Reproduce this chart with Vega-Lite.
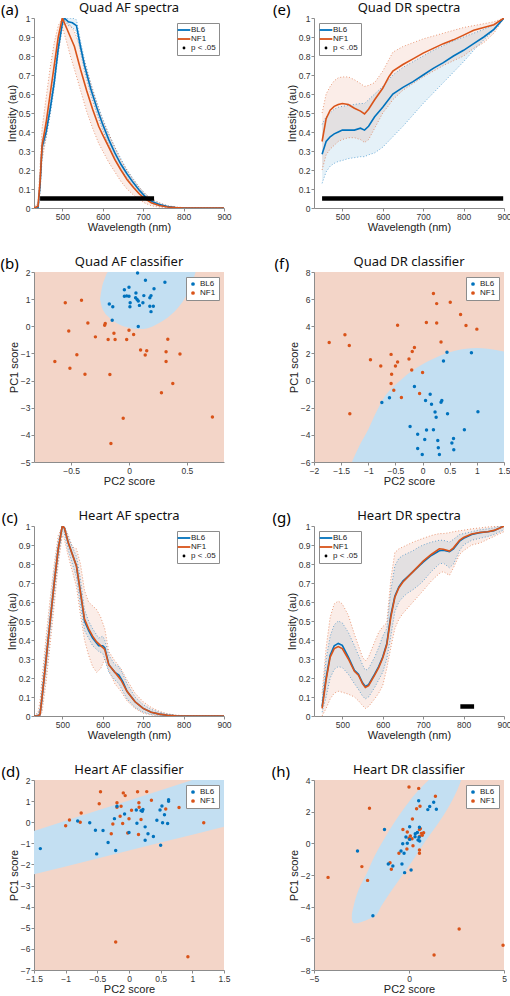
{
"$schema":"https://vega.github.io/schema/vega-lite/v6.json",
"padding":{"left":0,"top":2,"right":0,"bottom":0},
"background":"white",
"columns":2,
"spacing":{"row":64,"column":90},
"bounds":"flush",
"resolve":{"scale":{"color":"independent","fill":"independent","stroke":"independent"},"legend":{"color":"independent"}},
"config":{
 "view":{"stroke":null},
 "font":"Liberation Sans",
 "axis":{"labelFont":"Liberation Sans","labelFontSize":8.5,"labelColor":"#333","titleFont":"Liberation Sans","titleFontSize":11,"titleFontWeight":"normal","titleColor":"#222","domainColor":"#8c8c8c","tickColor":"#8c8c8c","tickSize":3,"grid":false,"labelPadding":1,"titlePadding":1,"labelFlush":false,"labelOverlap":false},
 "title":{"font":"Noto Sans","fontSize":13,"fontWeight":"normal","color":"#111","offset":-12},
 "legend":{"labelFont":"Liberation Sans","labelFontSize":8,"labelColor":"#222","fillColor":"white","strokeColor":"#8c8c8c","padding":3,"rowPadding":1,"offset":5,"symbolStrokeWidth":1.8,"labelOffset":3}
},
"datasets":{
"qaf":[
{"g":"BL6","wl":430,"m":0,"lo":0,"hi":0},{"g":"BL6","wl":440,"m":0,"lo":0,"hi":0.01},{"g":"BL6","wl":445,"m":0.12,"lo":0.1,"hi":0.15},{"g":"BL6","wl":450,"m":0.32,"lo":0.29,"hi":0.35},{"g":"BL6","wl":460,"m":0.4,"lo":0.37,"hi":0.43},{"g":"BL6","wl":470,"m":0.52,"lo":0.49,"hi":0.55},{"g":"BL6","wl":480,"m":0.66,"lo":0.63,"hi":0.69},{"g":"BL6","wl":490,"m":0.84,"lo":0.81,"hi":0.87},{"g":"BL6","wl":500,"m":0.97,"lo":0.95,"hi":0.99},{"g":"BL6","wl":505,"m":1.0,"lo":0.99,"hi":1.0},{"g":"BL6","wl":515,"m":0.98,"lo":0.96,"hi":1.0},{"g":"BL6","wl":525,"m":0.975,"lo":0.95,"hi":1.0},{"g":"BL6","wl":535,"m":0.96,"lo":0.93,"hi":0.99},{"g":"BL6","wl":545,"m":0.85,"lo":0.82,"hi":0.88},{"g":"BL6","wl":555,"m":0.75,"lo":0.72,"hi":0.78},{"g":"BL6","wl":570,"m":0.63,"lo":0.6,"hi":0.66},{"g":"BL6","wl":585,"m":0.53,"lo":0.5,"hi":0.56},{"g":"BL6","wl":600,"m":0.44,"lo":0.41,"hi":0.47},{"g":"BL6","wl":615,"m":0.36,"lo":0.33,"hi":0.39},{"g":"BL6","wl":630,"m":0.29,"lo":0.26,"hi":0.32},{"g":"BL6","wl":645,"m":0.23,"lo":0.2,"hi":0.26},{"g":"BL6","wl":660,"m":0.18,"lo":0.16,"hi":0.2},{"g":"BL6","wl":675,"m":0.135,"lo":0.115,"hi":0.155},{"g":"BL6","wl":690,"m":0.095,"lo":0.08,"hi":0.11},{"g":"BL6","wl":705,"m":0.06,"lo":0.05,"hi":0.075},{"g":"BL6","wl":720,"m":0.035,"lo":0.025,"hi":0.045},{"g":"BL6","wl":740,"m":0.018,"lo":0.01,"hi":0.026},{"g":"BL6","wl":760,"m":0.008,"lo":0.004,"hi":0.012},{"g":"BL6","wl":780,"m":0.003,"lo":0.001,"hi":0.005},{"g":"BL6","wl":800,"m":0,"lo":0,"hi":0.002},{"g":"BL6","wl":850,"m":0,"lo":0,"hi":0},{"g":"BL6","wl":900,"m":0,"lo":0,"hi":0},
{"g":"NF1","wl":430,"m":0,"lo":0,"hi":0},{"g":"NF1","wl":440,"m":0.01,"lo":0,"hi":0.03},{"g":"NF1","wl":445,"m":0.14,"lo":0.08,"hi":0.22},{"g":"NF1","wl":450,"m":0.33,"lo":0.25,"hi":0.42},{"g":"NF1","wl":460,"m":0.45,"lo":0.37,"hi":0.58},{"g":"NF1","wl":470,"m":0.6,"lo":0.51,"hi":0.74},{"g":"NF1","wl":480,"m":0.75,"lo":0.66,"hi":0.87},{"g":"NF1","wl":490,"m":0.9,"lo":0.82,"hi":0.96},{"g":"NF1","wl":500,"m":1.0,"lo":0.95,"hi":1.0},{"g":"NF1","wl":510,"m":0.95,"lo":0.88,"hi":0.99},{"g":"NF1","wl":520,"m":0.9,"lo":0.8,"hi":0.96},{"g":"NF1","wl":530,"m":0.85,"lo":0.73,"hi":0.93},{"g":"NF1","wl":545,"m":0.73,"lo":0.62,"hi":0.84},{"g":"NF1","wl":560,"m":0.62,"lo":0.51,"hi":0.73},{"g":"NF1","wl":575,"m":0.52,"lo":0.42,"hi":0.62},{"g":"NF1","wl":590,"m":0.43,"lo":0.34,"hi":0.52},{"g":"NF1","wl":600,"m":0.385,"lo":0.3,"hi":0.46},{"g":"NF1","wl":615,"m":0.32,"lo":0.24,"hi":0.39},{"g":"NF1","wl":630,"m":0.255,"lo":0.19,"hi":0.32},{"g":"NF1","wl":645,"m":0.2,"lo":0.14,"hi":0.25},{"g":"NF1","wl":660,"m":0.15,"lo":0.1,"hi":0.2},{"g":"NF1","wl":675,"m":0.11,"lo":0.07,"hi":0.15},{"g":"NF1","wl":690,"m":0.075,"lo":0.045,"hi":0.11},{"g":"NF1","wl":705,"m":0.048,"lo":0.025,"hi":0.075},{"g":"NF1","wl":720,"m":0.028,"lo":0.012,"hi":0.05},{"g":"NF1","wl":740,"m":0.013,"lo":0.004,"hi":0.028},{"g":"NF1","wl":760,"m":0.005,"lo":0.001,"hi":0.012},{"g":"NF1","wl":780,"m":0.002,"lo":0,"hi":0.005},{"g":"NF1","wl":800,"m":0,"lo":0,"hi":0.002},{"g":"NF1","wl":850,"m":0,"lo":0,"hi":0},{"g":"NF1","wl":900,"m":0,"lo":0,"hi":0}
],
"qdr":[
{"g":"BL6","wl":450,"m":0.283,"lo":0.13,"hi":0.44},{"g":"BL6","wl":460,"m":0.35,"lo":0.19,"hi":0.48},{"g":"BL6","wl":470,"m":0.375,"lo":0.22,"hi":0.5},{"g":"BL6","wl":480,"m":0.39,"lo":0.235,"hi":0.52},{"g":"BL6","wl":490,"m":0.4,"lo":0.245,"hi":0.53},{"g":"BL6","wl":500,"m":0.41,"lo":0.25,"hi":0.535},{"g":"BL6","wl":515,"m":0.41,"lo":0.26,"hi":0.54},{"g":"BL6","wl":530,"m":0.41,"lo":0.265,"hi":0.545},{"g":"BL6","wl":545,"m":0.42,"lo":0.27,"hi":0.55},{"g":"BL6","wl":555,"m":0.41,"lo":0.27,"hi":0.55},{"g":"BL6","wl":565,"m":0.43,"lo":0.28,"hi":0.57},{"g":"BL6","wl":580,"m":0.48,"lo":0.29,"hi":0.6},{"g":"BL6","wl":600,"m":0.53,"lo":0.32,"hi":0.64},{"g":"BL6","wl":625,"m":0.6,"lo":0.375,"hi":0.7},{"g":"BL6","wl":650,"m":0.635,"lo":0.43,"hi":0.74},{"g":"BL6","wl":675,"m":0.665,"lo":0.49,"hi":0.77},{"g":"BL6","wl":700,"m":0.7,"lo":0.55,"hi":0.8},{"g":"BL6","wl":725,"m":0.735,"lo":0.605,"hi":0.83},{"g":"BL6","wl":750,"m":0.765,"lo":0.66,"hi":0.855},{"g":"BL6","wl":775,"m":0.8,"lo":0.715,"hi":0.88},{"g":"BL6","wl":800,"m":0.83,"lo":0.77,"hi":0.9},{"g":"BL6","wl":825,"m":0.865,"lo":0.83,"hi":0.92},{"g":"BL6","wl":850,"m":0.9,"lo":0.885,"hi":0.94},{"g":"BL6","wl":875,"m":0.94,"lo":0.935,"hi":0.965},{"g":"BL6","wl":900,"m":1.0,"lo":1.0,"hi":1.0},
{"g":"NF1","wl":450,"m":0.35,"lo":0.2,"hi":0.5},{"g":"NF1","wl":460,"m":0.47,"lo":0.28,"hi":0.6},{"g":"NF1","wl":470,"m":0.515,"lo":0.31,"hi":0.64},{"g":"NF1","wl":480,"m":0.535,"lo":0.33,"hi":0.67},{"g":"NF1","wl":490,"m":0.545,"lo":0.35,"hi":0.685},{"g":"NF1","wl":500,"m":0.55,"lo":0.36,"hi":0.69},{"g":"NF1","wl":515,"m":0.545,"lo":0.37,"hi":0.69},{"g":"NF1","wl":530,"m":0.525,"lo":0.37,"hi":0.675},{"g":"NF1","wl":545,"m":0.51,"lo":0.36,"hi":0.655},{"g":"NF1","wl":555,"m":0.495,"lo":0.345,"hi":0.64},{"g":"NF1","wl":565,"m":0.52,"lo":0.36,"hi":0.645},{"g":"NF1","wl":580,"m":0.57,"lo":0.42,"hi":0.66},{"g":"NF1","wl":600,"m":0.63,"lo":0.5,"hi":0.72},{"g":"NF1","wl":615,"m":0.69,"lo":0.54,"hi":0.78},{"g":"NF1","wl":625,"m":0.72,"lo":0.57,"hi":0.82},{"g":"NF1","wl":650,"m":0.755,"lo":0.62,"hi":0.85},{"g":"NF1","wl":675,"m":0.785,"lo":0.655,"hi":0.87},{"g":"NF1","wl":700,"m":0.815,"lo":0.69,"hi":0.89},{"g":"NF1","wl":725,"m":0.84,"lo":0.72,"hi":0.905},{"g":"NF1","wl":750,"m":0.865,"lo":0.75,"hi":0.92},{"g":"NF1","wl":775,"m":0.885,"lo":0.775,"hi":0.935},{"g":"NF1","wl":800,"m":0.91,"lo":0.8,"hi":0.95},{"g":"NF1","wl":825,"m":0.935,"lo":0.84,"hi":0.96},{"g":"NF1","wl":850,"m":0.95,"lo":0.87,"hi":0.97},{"g":"NF1","wl":875,"m":0.965,"lo":0.92,"hi":0.98},{"g":"NF1","wl":900,"m":1.0,"lo":1.0,"hi":1.0}
],
"haf":[
{"g":"BL6","wl":430,"m":0,"lo":0,"hi":0},{"g":"BL6","wl":440,"m":0,"lo":0,"hi":0.01},{"g":"BL6","wl":445,"m":0.01,"lo":0,"hi":0.04},{"g":"BL6","wl":450,"m":0.1,"lo":0.06,"hi":0.15},{"g":"BL6","wl":460,"m":0.3,"lo":0.24,"hi":0.36},{"g":"BL6","wl":470,"m":0.5,"lo":0.44,"hi":0.56},{"g":"BL6","wl":480,"m":0.7,"lo":0.64,"hi":0.76},{"g":"BL6","wl":490,"m":0.88,"lo":0.83,"hi":0.92},{"g":"BL6","wl":500,"m":1.0,"lo":0.97,"hi":1.0},{"g":"BL6","wl":505,"m":0.99,"lo":0.96,"hi":1.0},{"g":"BL6","wl":515,"m":0.91,"lo":0.87,"hi":0.94},{"g":"BL6","wl":525,"m":0.85,"lo":0.8,"hi":0.89},{"g":"BL6","wl":535,"m":0.79,"lo":0.73,"hi":0.84},{"g":"BL6","wl":545,"m":0.65,"lo":0.58,"hi":0.72},{"g":"BL6","wl":555,"m":0.5,"lo":0.45,"hi":0.56},{"g":"BL6","wl":565,"m":0.45,"lo":0.41,"hi":0.5},{"g":"BL6","wl":575,"m":0.41,"lo":0.37,"hi":0.46},{"g":"BL6","wl":590,"m":0.37,"lo":0.34,"hi":0.41},{"g":"BL6","wl":600,"m":0.37,"lo":0.33,"hi":0.42},{"g":"BL6","wl":605,"m":0.36,"lo":0.3,"hi":0.4},{"g":"BL6","wl":615,"m":0.27,"lo":0.23,"hi":0.32},{"g":"BL6","wl":630,"m":0.23,"lo":0.19,"hi":0.27},{"g":"BL6","wl":640,"m":0.215,"lo":0.17,"hi":0.26},{"g":"BL6","wl":650,"m":0.18,"lo":0.13,"hi":0.22},{"g":"BL6","wl":660,"m":0.13,"lo":0.09,"hi":0.17},{"g":"BL6","wl":680,"m":0.075,"lo":0.045,"hi":0.1},{"g":"BL6","wl":700,"m":0.04,"lo":0.02,"hi":0.06},{"g":"BL6","wl":720,"m":0.02,"lo":0.008,"hi":0.035},{"g":"BL6","wl":740,"m":0.01,"lo":0.003,"hi":0.02},{"g":"BL6","wl":760,"m":0.004,"lo":0,"hi":0.01},{"g":"BL6","wl":780,"m":0.001,"lo":0,"hi":0.004},{"g":"BL6","wl":800,"m":0,"lo":0,"hi":0.001},{"g":"BL6","wl":900,"m":0,"lo":0,"hi":0},
{"g":"NF1","wl":430,"m":0,"lo":0,"hi":0},{"g":"NF1","wl":440,"m":0,"lo":0,"hi":0.02},{"g":"NF1","wl":445,"m":0.01,"lo":0,"hi":0.08},{"g":"NF1","wl":450,"m":0.1,"lo":0.02,"hi":0.2},{"g":"NF1","wl":460,"m":0.3,"lo":0.18,"hi":0.42},{"g":"NF1","wl":470,"m":0.5,"lo":0.38,"hi":0.62},{"g":"NF1","wl":480,"m":0.7,"lo":0.58,"hi":0.8},{"g":"NF1","wl":490,"m":0.88,"lo":0.8,"hi":0.95},{"g":"NF1","wl":500,"m":1.0,"lo":0.95,"hi":1.0},{"g":"NF1","wl":505,"m":0.99,"lo":0.93,"hi":1.0},{"g":"NF1","wl":515,"m":0.91,"lo":0.84,"hi":0.95},{"g":"NF1","wl":525,"m":0.85,"lo":0.76,"hi":0.89},{"g":"NF1","wl":535,"m":0.79,"lo":0.68,"hi":0.88},{"g":"NF1","wl":545,"m":0.65,"lo":0.53,"hi":0.8},{"g":"NF1","wl":555,"m":0.51,"lo":0.4,"hi":0.66},{"g":"NF1","wl":565,"m":0.46,"lo":0.32,"hi":0.6},{"g":"NF1","wl":575,"m":0.42,"lo":0.26,"hi":0.58},{"g":"NF1","wl":585,"m":0.39,"lo":0.23,"hi":0.56},{"g":"NF1","wl":595,"m":0.37,"lo":0.25,"hi":0.52},{"g":"NF1","wl":605,"m":0.35,"lo":0.3,"hi":0.46},{"g":"NF1","wl":615,"m":0.27,"lo":0.24,"hi":0.34},{"g":"NF1","wl":630,"m":0.23,"lo":0.17,"hi":0.29},{"g":"NF1","wl":645,"m":0.19,"lo":0.13,"hi":0.25},{"g":"NF1","wl":660,"m":0.13,"lo":0.08,"hi":0.19},{"g":"NF1","wl":680,"m":0.075,"lo":0.04,"hi":0.12},{"g":"NF1","wl":700,"m":0.04,"lo":0.015,"hi":0.075},{"g":"NF1","wl":720,"m":0.02,"lo":0.005,"hi":0.045},{"g":"NF1","wl":740,"m":0.01,"lo":0,"hi":0.025},{"g":"NF1","wl":760,"m":0.004,"lo":0,"hi":0.012},{"g":"NF1","wl":780,"m":0.001,"lo":0,"hi":0.005},{"g":"NF1","wl":800,"m":0,"lo":0,"hi":0.002},{"g":"NF1","wl":900,"m":0,"lo":0,"hi":0}
],
"hdr":[
{"g":"BL6","wl":450,"m":0.05,"lo":0.02,"hi":0.08},{"g":"BL6","wl":460,"m":0.2,"lo":0.1,"hi":0.3},{"g":"BL6","wl":470,"m":0.32,"lo":0.2,"hi":0.42},{"g":"BL6","wl":480,"m":0.37,"lo":0.245,"hi":0.48},{"g":"BL6","wl":490,"m":0.382,"lo":0.26,"hi":0.5},{"g":"BL6","wl":500,"m":0.372,"lo":0.255,"hi":0.49},{"g":"BL6","wl":515,"m":0.31,"lo":0.22,"hi":0.44},{"g":"BL6","wl":530,"m":0.24,"lo":0.17,"hi":0.37},{"g":"BL6","wl":540,"m":0.22,"lo":0.14,"hi":0.32},{"g":"BL6","wl":550,"m":0.175,"lo":0.105,"hi":0.27},{"g":"BL6","wl":557,"m":0.155,"lo":0.09,"hi":0.24},{"g":"BL6","wl":565,"m":0.165,"lo":0.1,"hi":0.25},{"g":"BL6","wl":580,"m":0.22,"lo":0.15,"hi":0.31},{"g":"BL6","wl":590,"m":0.26,"lo":0.19,"hi":0.36},{"g":"BL6","wl":600,"m":0.31,"lo":0.23,"hi":0.42},{"g":"BL6","wl":610,"m":0.38,"lo":0.3,"hi":0.46},{"g":"BL6","wl":620,"m":0.53,"lo":0.42,"hi":0.66},{"g":"BL6","wl":630,"m":0.63,"lo":0.55,"hi":0.79},{"g":"BL6","wl":640,"m":0.68,"lo":0.6,"hi":0.83},{"g":"BL6","wl":650,"m":0.71,"lo":0.625,"hi":0.845},{"g":"BL6","wl":660,"m":0.73,"lo":0.645,"hi":0.855},{"g":"BL6","wl":675,"m":0.76,"lo":0.665,"hi":0.87},{"g":"BL6","wl":690,"m":0.79,"lo":0.69,"hi":0.89},{"g":"BL6","wl":700,"m":0.81,"lo":0.71,"hi":0.9},{"g":"BL6","wl":720,"m":0.845,"lo":0.76,"hi":0.915},{"g":"BL6","wl":740,"m":0.87,"lo":0.8,"hi":0.925},{"g":"BL6","wl":750,"m":0.872,"lo":0.805,"hi":0.925},{"g":"BL6","wl":765,"m":0.865,"lo":0.78,"hi":0.915},{"g":"BL6","wl":775,"m":0.88,"lo":0.8,"hi":0.93},{"g":"BL6","wl":790,"m":0.92,"lo":0.87,"hi":0.955},{"g":"BL6","wl":800,"m":0.935,"lo":0.9,"hi":0.96},{"g":"BL6","wl":820,"m":0.955,"lo":0.925,"hi":0.97},{"g":"BL6","wl":840,"m":0.965,"lo":0.935,"hi":0.98},{"g":"BL6","wl":860,"m":0.97,"lo":0.945,"hi":0.985},{"g":"BL6","wl":875,"m":0.975,"lo":0.955,"hi":0.99},{"g":"BL6","wl":890,"m":0.99,"lo":0.97,"hi":1.0},{"g":"BL6","wl":900,"m":1.0,"lo":0.98,"hi":1.0},
{"g":"NF1","wl":450,"m":0.04,"lo":0.0,"hi":0.12},{"g":"NF1","wl":460,"m":0.19,"lo":0.04,"hi":0.36},{"g":"NF1","wl":470,"m":0.31,"lo":0.09,"hi":0.52},{"g":"NF1","wl":480,"m":0.355,"lo":0.12,"hi":0.59},{"g":"NF1","wl":490,"m":0.365,"lo":0.13,"hi":0.605},{"g":"NF1","wl":500,"m":0.355,"lo":0.125,"hi":0.59},{"g":"NF1","wl":515,"m":0.3,"lo":0.115,"hi":0.53},{"g":"NF1","wl":530,"m":0.235,"lo":0.1,"hi":0.43},{"g":"NF1","wl":540,"m":0.215,"lo":0.08,"hi":0.37},{"g":"NF1","wl":550,"m":0.17,"lo":0.055,"hi":0.31},{"g":"NF1","wl":557,"m":0.15,"lo":0.04,"hi":0.29},{"g":"NF1","wl":565,"m":0.16,"lo":0.05,"hi":0.31},{"g":"NF1","wl":580,"m":0.215,"lo":0.09,"hi":0.39},{"g":"NF1","wl":590,"m":0.255,"lo":0.12,"hi":0.44},{"g":"NF1","wl":600,"m":0.305,"lo":0.16,"hi":0.47},{"g":"NF1","wl":610,"m":0.375,"lo":0.25,"hi":0.49},{"g":"NF1","wl":620,"m":0.52,"lo":0.36,"hi":0.72},{"g":"NF1","wl":630,"m":0.625,"lo":0.46,"hi":0.86},{"g":"NF1","wl":640,"m":0.675,"lo":0.51,"hi":0.88},{"g":"NF1","wl":650,"m":0.705,"lo":0.54,"hi":0.89},{"g":"NF1","wl":675,"m":0.76,"lo":0.6,"hi":0.915},{"g":"NF1","wl":700,"m":0.815,"lo":0.66,"hi":0.935},{"g":"NF1","wl":720,"m":0.85,"lo":0.71,"hi":0.95},{"g":"NF1","wl":740,"m":0.88,"lo":0.75,"hi":0.96},{"g":"NF1","wl":750,"m":0.878,"lo":0.76,"hi":0.96},{"g":"NF1","wl":765,"m":0.868,"lo":0.74,"hi":0.965},{"g":"NF1","wl":775,"m":0.885,"lo":0.78,"hi":0.97},{"g":"NF1","wl":790,"m":0.925,"lo":0.85,"hi":0.975},{"g":"NF1","wl":800,"m":0.94,"lo":0.87,"hi":0.978},{"g":"NF1","wl":820,"m":0.958,"lo":0.9,"hi":0.985},{"g":"NF1","wl":840,"m":0.966,"lo":0.91,"hi":0.99},{"g":"NF1","wl":860,"m":0.97,"lo":0.93,"hi":0.995},{"g":"NF1","wl":875,"m":0.977,"lo":0.945,"hi":0.997},{"g":"NF1","wl":890,"m":0.99,"lo":0.96,"hi":1.0},{"g":"NF1","wl":900,"m":1.0,"lo":0.97,"hi":1.0}
],
"qafr":[
{"x":-0.25,"y1":1.0,"y2":1.0},{"x":-0.235,"y1":0.72,"y2":1.4},{"x":-0.21,"y1":0.5,"y2":1.75},{"x":-0.18,"y1":0.36,"y2":2.0},{"x":-0.15,"y1":0.24,"y2":2.0},{"x":-0.1,"y1":0.1,"y2":2.0},{"x":-0.05,"y1":0.0,"y2":2.0},{"x":0.0,"y1":-0.05,"y2":2.0},{"x":0.05,"y1":-0.09,"y2":2.0},{"x":0.1,"y1":-0.1,"y2":2.0},{"x":0.15,"y1":-0.08,"y2":2.0},{"x":0.22,"y1":0.03,"y2":2.0},{"x":0.3,"y1":0.22,"y2":2.0},{"x":0.37,"y1":0.45,"y2":2.0},{"x":0.43,"y1":0.72,"y2":2.0},{"x":0.49,"y1":1.1,"y2":2.0},{"x":0.53,"y1":1.45,"y2":2.0},{"x":0.56,"y1":1.8,"y2":2.0},{"x":0.575,"y1":2.0,"y2":2.0}
],
"qdrr":[
{"x":-1.3,"y1":-6,"y2":-6},{"x":-1.15,"y1":-6,"y2":-4.7},{"x":-1.0,"y1":-6,"y2":-3.6},{"x":-0.85,"y1":-6,"y2":-2.3},{"x":-0.7,"y1":-6,"y2":-1.2},{"x":-0.55,"y1":-6,"y2":-0.5},{"x":-0.4,"y1":-6,"y2":0.05},{"x":-0.2,"y1":-6,"y2":0.7},{"x":0.0,"y1":-6,"y2":1.2},{"x":0.2,"y1":-6,"y2":1.6},{"x":0.4,"y1":-6,"y2":1.95},{"x":0.6,"y1":-6,"y2":2.2},{"x":0.8,"y1":-6,"y2":2.35},{"x":1.0,"y1":-6,"y2":2.4},{"x":1.2,"y1":-6,"y2":2.35},{"x":1.5,"y1":-6,"y2":2.15}
],
"hafr":[
{"x":-1.5,"y1":-2.47,"y2":-0.42},{"x":-1.0,"y1":-2.1,"y2":0.065},{"x":-0.5,"y1":-1.72,"y2":0.55},{"x":0.0,"y1":-1.34,"y2":1.03},{"x":0.5,"y1":-0.96,"y2":1.52},{"x":1.0,"y1":-0.59,"y2":2.0},{"x":1.5,"y1":-0.21,"y2":2.0}
],
"hdrr":[
{"y":-5.05,"x1":-2.9,"x2":-2.7},{"y":-4.85,"x1":-3.0,"x2":-2.25},{"y":-4.57,"x1":-3.01,"x2":-1.78},{"y":-4.0,"x1":-2.92,"x2":-1.48},{"y":-2.95,"x1":-2.66,"x2":-0.9},{"y":-1.89,"x1":-2.22,"x2":-0.28},{"y":-0.84,"x1":-1.83,"x2":0.33},{"y":0.21,"x1":-1.34,"x2":0.9},{"y":1.26,"x1":-0.81,"x2":1.53},{"y":2.32,"x1":-0.19,"x2":2.1},{"y":3.37,"x1":0.51,"x2":2.54},{"y":4.0,"x1":1.04,"x2":2.75}
],
"qafc":[
{"g":"BL6","x":0.074,"y":1.96},{"g":"BL6","x":0.142,"y":1.7},{"g":"BL6","x":0.31,"y":1.62},{"g":"BL6","x":-0.04,"y":1.35},{"g":"BL6","x":0.0,"y":1.44},{"g":"BL6","x":0.216,"y":1.38},{"g":"BL6","x":0.06,"y":1.23},{"g":"BL6","x":-0.04,"y":1.11},{"g":"BL6","x":-0.02,"y":1.12},{"g":"BL6","x":0.0,"y":1.11},{"g":"BL6","x":0.128,"y":1.13},{"g":"BL6","x":0.18,"y":1.05},{"g":"BL6","x":0.19,"y":1.13},{"g":"BL6","x":0.057,"y":1.05},{"g":"BL6","x":0.07,"y":0.99},{"g":"BL6","x":0.08,"y":0.93},{"g":"BL6","x":0.01,"y":0.87},{"g":"BL6","x":0.008,"y":0.72},{"g":"BL6","x":0.09,"y":0.77},{"g":"BL6","x":0.12,"y":0.87},{"g":"BL6","x":0.18,"y":0.74},{"g":"BL6","x":0.21,"y":0.74},{"g":"BL6","x":0.19,"y":0.54},{"g":"BL6","x":-0.17,"y":0.82},{"g":"BL6","x":-0.14,"y":0.72},{"g":"BL6","x":-0.145,"y":0.22},{"g":"BL6","x":0.08,"y":-0.01},
{"g":"NF1","x":-0.55,"y":0.87},{"g":"NF1","x":-0.41,"y":0.96},{"g":"NF1","x":-0.355,"y":0.12},{"g":"NF1","x":-0.205,"y":0.1},{"g":"NF1","x":-0.21,"y":0.04},{"g":"NF1","x":-0.52,"y":-0.17},{"g":"NF1","x":-0.29,"y":-0.39},{"g":"NF1","x":-0.13,"y":-0.26},{"g":"NF1","x":-0.18,"y":-0.49},{"g":"NF1","x":-0.12,"y":-0.49},{"g":"NF1","x":0.0,"y":-0.15},{"g":"NF1","x":-0.02,"y":-0.49},{"g":"NF1","x":0.04,"y":-0.3},{"g":"NF1","x":0.335,"y":-0.48},{"g":"NF1","x":0.1,"y":-0.87},{"g":"NF1","x":0.153,"y":-0.9},{"g":"NF1","x":0.14,"y":-1.06},{"g":"NF1","x":0.32,"y":-0.94},{"g":"NF1","x":0.44,"y":-1.02},{"g":"NF1","x":-0.45,"y":-1.05},{"g":"NF1","x":-0.64,"y":-1.3},{"g":"NF1","x":-0.51,"y":-1.55},{"g":"NF1","x":-0.38,"y":-1.77},{"g":"NF1","x":-0.165,"y":-1.78},{"g":"NF1","x":0.32,"y":-1.3},{"g":"NF1","x":0.378,"y":-2.11},{"g":"NF1","x":0.28,"y":-2.45},{"g":"NF1","x":-0.05,"y":-3.39},{"g":"NF1","x":0.72,"y":-3.34},{"g":"NF1","x":-0.156,"y":-4.32}
],
"qdrc":[
{"g":"NF1","x":0.2,"y":6.41},{"g":"NF1","x":0.26,"y":5.67},{"g":"NF1","x":0.51,"y":5.77},{"g":"NF1","x":0.7,"y":4.87},{"g":"NF1","x":0.8,"y":4.06},{"g":"NF1","x":1.0,"y":3.79},{"g":"NF1","x":0.07,"y":4.28},{"g":"NF1","x":0.26,"y":4.25},{"g":"NF1","x":-0.46,"y":4.08},{"g":"NF1","x":0.34,"y":2.84},{"g":"NF1","x":-1.72,"y":2.81},{"g":"NF1","x":-1.43,"y":3.37},{"g":"NF1","x":-1.35,"y":2.59},{"g":"NF1","x":-0.96,"y":1.54},{"g":"NF1","x":-0.77,"y":1.08},{"g":"NF1","x":-0.58,"y":1.93},{"g":"NF1","x":-0.46,"y":1.37},{"g":"NF1","x":-0.5,"y":1.08},{"g":"NF1","x":-0.25,"y":1.59},{"g":"NF1","x":-0.15,"y":2.44},{"g":"NF1","x":-0.19,"y":2.15},{"g":"NF1","x":-0.57,"y":0.46},{"g":"NF1","x":-0.2,"y":0.78},{"g":"NF1","x":0.0,"y":0.59},{"g":"NF1","x":-0.58,"y":-0.22},{"g":"NF1","x":-0.53,"y":-0.71},{"g":"NF1","x":-0.39,"y":-1.25},{"g":"NF1","x":-0.055,"y":-0.95},{"g":"NF1","x":-1.34,"y":-2.44},
{"g":"BL6","x":0.45,"y":2.08},{"g":"BL6","x":0.9,"y":2.05},{"g":"BL6","x":0.385,"y":1.44},{"g":"BL6","x":-0.15,"y":-0.44},{"g":"BL6","x":-0.75,"y":-1.61},{"g":"BL6","x":-0.61,"y":-1.27},{"g":"BL6","x":0.14,"y":-1.0},{"g":"BL6","x":0.055,"y":-1.47},{"g":"BL6","x":0.165,"y":-1.74},{"g":"BL6","x":0.355,"y":-1.47},{"g":"BL6","x":0.34,"y":-1.59},{"g":"BL6","x":0.23,"y":-2.32},{"g":"BL6","x":0.25,"y":-2.71},{"g":"BL6","x":0.46,"y":-2.44},{"g":"BL6","x":1.02,"y":-2.29},{"g":"BL6","x":-0.23,"y":-3.38},{"g":"BL6","x":-0.09,"y":-3.96},{"g":"BL6","x":0.073,"y":-3.64},{"g":"BL6","x":0.2,"y":-3.62},{"g":"BL6","x":0.77,"y":-3.62},{"g":"BL6","x":0.04,"y":-4.34},{"g":"BL6","x":0.28,"y":-4.42},{"g":"BL6","x":0.57,"y":-4.27},{"g":"BL6","x":0.54,"y":-4.6},{"g":"BL6","x":-0.09,"y":-5.0},{"g":"BL6","x":0.29,"y":-4.95},{"g":"BL6","x":0.575,"y":-5.1},{"g":"BL6","x":-0.006,"y":-5.45},{"g":"BL6","x":0.31,"y":-5.45}
],
"hafc":[
{"g":"NF1","x":-0.45,"y":1.44},{"g":"NF1","x":-0.09,"y":1.39},{"g":"NF1","x":-0.06,"y":1.26},{"g":"NF1","x":0.135,"y":1.44},{"g":"NF1","x":0.28,"y":1.45},{"g":"NF1","x":-0.47,"y":0.88},{"g":"NF1","x":-0.19,"y":0.92},{"g":"NF1","x":-0.19,"y":0.71},{"g":"NF1","x":-0.125,"y":0.76},{"g":"NF1","x":0.156,"y":0.92},{"g":"NF1","x":0.16,"y":0.71},{"g":"NF1","x":0.354,"y":1.04},{"g":"NF1","x":0.04,"y":0.57},{"g":"NF1","x":0.58,"y":0.63},{"g":"NF1","x":0.79,"y":0.7},{"g":"NF1","x":-0.755,"y":0.44},{"g":"NF1","x":-0.94,"y":0.11},{"g":"NF1","x":-0.77,"y":0.0},{"g":"NF1","x":-1.0,"y":-0.17},{"g":"NF1","x":-0.255,"y":-0.08},{"g":"NF1","x":-0.14,"y":0.28},{"g":"NF1","x":-0.1,"y":-0.06},{"g":"NF1","x":0.0,"y":0.16},{"g":"NF1","x":0.19,"y":0.13},{"g":"NF1","x":-0.28,"y":-0.55},{"g":"NF1","x":-0.02,"y":-0.51},{"g":"NF1","x":0.15,"y":-0.58},{"g":"NF1","x":1.18,"y":-0.03},{"g":"NF1","x":-0.21,"y":-5.67},{"g":"NF1","x":0.93,"y":-6.37},
{"g":"BL6","x":-0.81,"y":0.06},{"g":"BL6","x":-0.62,"y":-0.03},{"g":"BL6","x":-0.53,"y":-0.38},{"g":"BL6","x":-0.41,"y":-0.39},{"g":"BL6","x":-0.33,"y":-0.96},{"g":"BL6","x":-0.51,"y":-1.5},{"g":"BL6","x":-0.21,"y":-1.34},{"g":"BL6","x":-1.4,"y":-1.25},{"g":"BL6","x":-0.23,"y":0.17},{"g":"BL6","x":-0.19,"y":0.76},{"g":"BL6","x":-0.07,"y":0.39},{"g":"BL6","x":0.115,"y":0.58},{"g":"BL6","x":0.19,"y":0.55},{"g":"BL6","x":0.22,"y":0.6},{"g":"BL6","x":0.21,"y":0.52},{"g":"BL6","x":0.0,"y":-0.49},{"g":"BL6","x":0.125,"y":-0.05},{"g":"BL6","x":0.255,"y":-0.22},{"g":"BL6","x":0.3,"y":-0.55},{"g":"BL6","x":0.255,"y":-0.85},{"g":"BL6","x":0.385,"y":-0.68},{"g":"BL6","x":0.44,"y":0.09},{"g":"BL6","x":0.49,"y":0.58},{"g":"BL6","x":0.52,"y":0.77},{"g":"BL6","x":0.56,"y":0.35},{"g":"BL6","x":0.53,"y":-0.03},{"g":"BL6","x":0.61,"y":-0.06},{"g":"BL6","x":0.625,"y":1.06},{"g":"BL6","x":0.625,"y":0.99},{"g":"BL6","x":0.5,"y":-1.09}
],
"hdrc":[
{"g":"NF1","x":0.0,"y":3.56},{"g":"NF1","x":0.51,"y":3.47},{"g":"NF1","x":1.39,"y":2.97},{"g":"NF1","x":-2.08,"y":2.21},{"g":"NF1","x":0.4,"y":2.19},{"g":"NF1","x":0.58,"y":2.34},{"g":"NF1","x":0.18,"y":1.54},{"g":"NF1","x":-0.32,"y":0.88},{"g":"NF1","x":-0.09,"y":0.72},{"g":"NF1","x":0.07,"y":0.46},{"g":"NF1","x":0.0,"y":0.32},{"g":"NF1","x":0.16,"y":0.29},{"g":"NF1","x":0.21,"y":-0.15},{"g":"NF1","x":-0.11,"y":-0.36},{"g":"NF1","x":-0.53,"y":-0.63},{"g":"NF1","x":0.55,"y":0.88},{"g":"NF1","x":0.6,"y":0.93},{"g":"NF1","x":0.65,"y":0.63},{"g":"NF1","x":0.7,"y":0.51},{"g":"NF1","x":0.77,"y":0.67},{"g":"NF1","x":0.56,"y":0.44},{"g":"NF1","x":0.55,"y":-0.42},{"g":"NF1","x":0.55,"y":-0.63},{"g":"NF1","x":-1.0,"y":-1.22},{"g":"NF1","x":-0.93,"y":-1.64},{"g":"NF1","x":-2.48,"y":-1.47},{"g":"NF1","x":-2.18,"y":-2.34},{"g":"NF1","x":-4.26,"y":-2.15},{"g":"NF1","x":2.64,"y":-5.41},{"g":"NF1","x":1.32,"y":-7.05},{"g":"NF1","x":4.95,"y":-6.44},
{"g":"BL6","x":0.51,"y":2.69},{"g":"BL6","x":1.3,"y":2.59},{"g":"BL6","x":1.09,"y":2.32},{"g":"BL6","x":0.99,"y":2.13},{"g":"BL6","x":1.44,"y":2.15},{"g":"BL6","x":-1.29,"y":0.88},{"g":"BL6","x":0.035,"y":1.05},{"g":"BL6","x":0.55,"y":1.01},{"g":"BL6","x":0.33,"y":0.61},{"g":"BL6","x":0.44,"y":0.69},{"g":"BL6","x":-0.16,"y":0.4},{"g":"BL6","x":0.035,"y":0.25},{"g":"BL6","x":0.32,"y":0.42},{"g":"BL6","x":0.53,"y":0.38},{"g":"BL6","x":0.475,"y":0.21},{"g":"BL6","x":0.56,"y":0.15},{"g":"BL6","x":-0.33,"y":-0.02},{"g":"BL6","x":-0.09,"y":0.0},{"g":"BL6","x":-0.42,"y":-0.48},{"g":"BL6","x":-0.26,"y":-0.63},{"g":"BL6","x":-2.71,"y":-0.48},{"g":"BL6","x":-1.09,"y":-1.31},{"g":"BL6","x":-0.85,"y":-1.43},{"g":"BL6","x":-0.37,"y":-1.31},{"g":"BL6","x":-0.23,"y":-1.85},{"g":"BL6","x":0.11,"y":-1.68},{"g":"BL6","x":-1.9,"y":-4.57}
]
},
"concat":[
{"width":190,"height":190,"title":"Quad AF spectra","resolve":{"axis":{"x":"independent","y":"independent"}},"layer":[
 {"data":{"name":"qaf"},"mark":{"type":"area","fillOpacity":0.1,"clip":true},"encoding":{"x":{"field":"wl","type":"quantitative","scale":{"domain":[430,900],"nice":false,"zero":false},"axis":{"title":"Wavelength (nm)","values":[500,600,700,800,900],"labelOverlap":false}},"y":{"field":"lo","type":"quantitative","scale":{"domain":[0,1],"nice":false},"axis":{"title":"Intesity (au)","values":[0,0.1,0.2,0.3,0.4,0.5,0.6,0.7,0.8,0.9,1],"format":"~g","labelOverlap":false}},"y2":{"field":"hi"},"fill":{"field":"g","type":"nominal","scale":{"domain":["BL6","NF1"],"range":["#0072BD","#D95319"]},"legend":null}}},
 {"data":{"name":"qaf"},"mark":{"type":"line","strokeDash":[1,2],"strokeWidth":0.8,"opacity":0.7,"clip":true},"encoding":{"x":{"field":"wl","type":"quantitative","axis":null},"y":{"field":"lo","type":"quantitative","axis":null},"stroke":{"field":"g","type":"nominal","scale":{"domain":["BL6","NF1"],"range":["#0072BD","#D95319"]},"legend":null}}},
 {"data":{"name":"qaf"},"mark":{"type":"line","strokeDash":[1,2],"strokeWidth":0.8,"opacity":0.7,"clip":true},"encoding":{"x":{"field":"wl","type":"quantitative","axis":null},"y":{"field":"hi","type":"quantitative","axis":null},"stroke":{"field":"g","type":"nominal","scale":{"domain":["BL6","NF1"],"range":["#0072BD","#D95319"]},"legend":null}}},
 {"data":{"name":"qaf"},"mark":{"type":"line","strokeWidth":1.6,"clip":true},"encoding":{"x":{"field":"wl","type":"quantitative","axis":null},"y":{"field":"m","type":"quantitative","axis":null},"color":{"field":"g","type":"nominal","scale":{"domain":["BL6","NF1","p < .05"],"range":["#0072BD","#D95319","#000000"]},"legend":{"orient":"top-right","title":null,"symbolType":"stroke","symbolSize":160,"encode":{"symbols":{"update":{"shape":{"signal":"datum.value === 'p < .05' ? 'circle' : 'stroke'"},"size":{"signal":"datum.value === 'p < .05' ? 8 : 160"},"fill":{"signal":"datum.value === 'p < .05' ? '#000' : 'transparent'"},"strokeWidth":{"signal":"datum.value === 'p < .05' ? 0 : 1.8"}}}}}}}},
 {"data":{"values":[{"s":445,"e":727}]},"mark":{"type":"rule","color":"#000","strokeWidth":4.5},"encoding":{"x":{"field":"s","type":"quantitative","axis":null},"x2":{"field":"e"},"y":{"datum":0.05,"axis":null}}},
 {"data":{"values":[{"lab":"(a)"}]},"mark":{"type":"text","font":"Noto Sans","fontSize":15,"align":"center","baseline":"middle"},"encoding":{"text":{"field":"lab"},"x":{"datum":370,"axis":null},"y":{"datum":1.042,"axis":null}}}
]},
{"width":190,"height":190,"title":"Quad DR spectra","resolve":{"axis":{"x":"independent","y":"independent"}},"layer":[
 {"data":{"name":"qdr"},"mark":{"type":"area","fillOpacity":0.1,"clip":true},"encoding":{"x":{"field":"wl","type":"quantitative","scale":{"domain":[430,900],"nice":false,"zero":false},"axis":{"title":"Wavelength (nm)","values":[500,600,700,800,900],"labelOverlap":false}},"y":{"field":"lo","type":"quantitative","scale":{"domain":[0,1],"nice":false},"axis":{"title":"Intesity (au)","values":[0,0.1,0.2,0.3,0.4,0.5,0.6,0.7,0.8,0.9,1],"format":"~g","labelOverlap":false}},"y2":{"field":"hi"},"fill":{"field":"g","type":"nominal","scale":{"domain":["BL6","NF1"],"range":["#0072BD","#D95319"]},"legend":null}}},
 {"data":{"name":"qdr"},"mark":{"type":"line","strokeDash":[1,2],"strokeWidth":0.8,"opacity":0.7,"clip":true},"encoding":{"x":{"field":"wl","type":"quantitative","axis":null},"y":{"field":"lo","type":"quantitative","axis":null},"stroke":{"field":"g","type":"nominal","scale":{"domain":["BL6","NF1"],"range":["#0072BD","#D95319"]},"legend":null}}},
 {"data":{"name":"qdr"},"mark":{"type":"line","strokeDash":[1,2],"strokeWidth":0.8,"opacity":0.7,"clip":true},"encoding":{"x":{"field":"wl","type":"quantitative","axis":null},"y":{"field":"hi","type":"quantitative","axis":null},"stroke":{"field":"g","type":"nominal","scale":{"domain":["BL6","NF1"],"range":["#0072BD","#D95319"]},"legend":null}}},
 {"data":{"name":"qdr"},"mark":{"type":"line","strokeWidth":1.6,"clip":true},"encoding":{"x":{"field":"wl","type":"quantitative","axis":null},"y":{"field":"m","type":"quantitative","axis":null},"color":{"field":"g","type":"nominal","scale":{"domain":["BL6","NF1","p < .05"],"range":["#0072BD","#D95319","#000000"]},"legend":{"orient":"top-left","title":null,"symbolType":"stroke","symbolSize":160,"encode":{"symbols":{"update":{"shape":{"signal":"datum.value === 'p < .05' ? 'circle' : 'stroke'"},"size":{"signal":"datum.value === 'p < .05' ? 8 : 160"},"fill":{"signal":"datum.value === 'p < .05' ? '#000' : 'transparent'"},"strokeWidth":{"signal":"datum.value === 'p < .05' ? 0 : 1.8"}}}}}}}},
 {"data":{"values":[{"s":450,"e":898}]},"mark":{"type":"rule","color":"#000","strokeWidth":4.5},"encoding":{"x":{"field":"s","type":"quantitative","axis":null},"x2":{"field":"e"},"y":{"datum":0.05,"axis":null}}},
 {"data":{"values":[{"lab":"(e)"}]},"mark":{"type":"text","font":"Noto Sans","fontSize":15,"align":"center","baseline":"middle"},"encoding":{"text":{"field":"lab"},"x":{"datum":350,"axis":null},"y":{"datum":1.042,"axis":null}}}
]},
{"width":190,"height":190,"title":"Quad AF classifier","view":{"fill":"#f3d5c8","stroke":null},"resolve":{"axis":{"x":"independent","y":"independent"}},"layer":[
 {"data":{"name":"qafr"},"mark":{"type":"area","color":"#c3dff2","opacity":1,"interpolate":"monotone","clip":true},"encoding":{"x":{"field":"x","type":"quantitative","scale":{"domain":[-0.82,0.82],"nice":false,"zero":false},"axis":{"title":"PC2 score","values":[-0.5,0,0.5],"format":"~g","labelOverlap":false}},"y":{"field":"y1","type":"quantitative","scale":{"domain":[-5,2],"nice":false,"zero":false},"axis":{"title":"PC1 score","values":[-5,-4,-3,-2,-1,0,1,2],"format":"~g","labelOverlap":false}},"y2":{"field":"y2"}}},
 {"data":{"name":"qafc"},"mark":{"type":"circle","size":12,"opacity":1},"encoding":{"x":{"field":"x","type":"quantitative","axis":null},"y":{"field":"y","type":"quantitative","axis":null},"color":{"field":"g","type":"nominal","scale":{"domain":["BL6","NF1"],"range":["#0072BD","#D95319"]},"legend":{"orient":"top-right","title":null,"symbolType":"circle","symbolSize":14}}}},
 {"data":{"values":[{"lab":"(b)"}]},"mark":{"type":"text","font":"Noto Sans","fontSize":15,"align":"center","baseline":"middle"},"encoding":{"text":{"field":"lab"},"x":{"datum":-1.03,"axis":null},"y":{"datum":2.295,"axis":null}}}
]},
{"width":190,"height":190,"title":"Quad DR classifier","view":{"fill":"#f3d5c8","stroke":null},"resolve":{"axis":{"x":"independent","y":"independent"}},"layer":[
 {"data":{"name":"qdrr"},"mark":{"type":"area","color":"#c3dff2","opacity":1,"interpolate":"monotone","clip":true},"encoding":{"x":{"field":"x","type":"quantitative","scale":{"domain":[-2,1.5],"nice":false,"zero":false},"axis":{"title":"PC2 score","values":[-2,-1.5,-1,-0.5,0,0.5,1,1.5],"format":"~g","labelOverlap":false}},"y":{"field":"y1","type":"quantitative","scale":{"domain":[-6,8],"nice":false,"zero":false},"axis":{"title":"PC1 score","values":[-6,-4,-2,0,2,4,6,8],"format":"~g","labelOverlap":false}},"y2":{"field":"y2"}}},
 {"data":{"name":"qdrc"},"mark":{"type":"circle","size":12,"opacity":1},"encoding":{"x":{"field":"x","type":"quantitative","axis":null},"y":{"field":"y","type":"quantitative","axis":null},"color":{"field":"g","type":"nominal","scale":{"domain":["BL6","NF1"],"range":["#0072BD","#D95319"]},"legend":{"orient":"top-right","title":null,"symbolType":"circle","symbolSize":14}}}},
 {"data":{"values":[{"lab":"(f)"}]},"mark":{"type":"text","font":"Noto Sans","fontSize":15,"align":"center","baseline":"middle"},"encoding":{"text":{"field":"lab"},"x":{"datum":-2.59,"axis":null},"y":{"datum":8.59,"axis":null}}}
]},
{"width":190,"height":190,"title":"Heart AF spectra","resolve":{"axis":{"x":"independent","y":"independent"}},"layer":[
 {"data":{"name":"haf"},"mark":{"type":"area","fillOpacity":0.1,"clip":true},"encoding":{"x":{"field":"wl","type":"quantitative","scale":{"domain":[430,900],"nice":false,"zero":false},"axis":{"title":"Wavelength (nm)","values":[500,600,700,800,900],"labelOverlap":false}},"y":{"field":"lo","type":"quantitative","scale":{"domain":[0,1],"nice":false},"axis":{"title":"Intesity (au)","values":[0,0.1,0.2,0.3,0.4,0.5,0.6,0.7,0.8,0.9,1],"format":"~g","labelOverlap":false}},"y2":{"field":"hi"},"fill":{"field":"g","type":"nominal","scale":{"domain":["BL6","NF1"],"range":["#0072BD","#D95319"]},"legend":null}}},
 {"data":{"name":"haf"},"mark":{"type":"line","strokeDash":[1,2],"strokeWidth":0.8,"opacity":0.7,"clip":true},"encoding":{"x":{"field":"wl","type":"quantitative","axis":null},"y":{"field":"lo","type":"quantitative","axis":null},"stroke":{"field":"g","type":"nominal","scale":{"domain":["BL6","NF1"],"range":["#0072BD","#D95319"]},"legend":null}}},
 {"data":{"name":"haf"},"mark":{"type":"line","strokeDash":[1,2],"strokeWidth":0.8,"opacity":0.7,"clip":true},"encoding":{"x":{"field":"wl","type":"quantitative","axis":null},"y":{"field":"hi","type":"quantitative","axis":null},"stroke":{"field":"g","type":"nominal","scale":{"domain":["BL6","NF1"],"range":["#0072BD","#D95319"]},"legend":null}}},
 {"data":{"name":"haf"},"mark":{"type":"line","strokeWidth":1.6,"clip":true},"encoding":{"x":{"field":"wl","type":"quantitative","axis":null},"y":{"field":"m","type":"quantitative","axis":null},"color":{"field":"g","type":"nominal","scale":{"domain":["BL6","NF1","p < .05"],"range":["#0072BD","#D95319","#000000"]},"legend":{"orient":"top-right","title":null,"symbolType":"stroke","symbolSize":160,"encode":{"symbols":{"update":{"shape":{"signal":"datum.value === 'p < .05' ? 'circle' : 'stroke'"},"size":{"signal":"datum.value === 'p < .05' ? 8 : 160"},"fill":{"signal":"datum.value === 'p < .05' ? '#000' : 'transparent'"},"strokeWidth":{"signal":"datum.value === 'p < .05' ? 0 : 1.8"}}}}}}}},
 {"data":{"values":[{"lab":"(c)"}]},"mark":{"type":"text","font":"Noto Sans","fontSize":15,"align":"center","baseline":"middle"},"encoding":{"text":{"field":"lab"},"x":{"datum":370,"axis":null},"y":{"datum":1.042,"axis":null}}}
]},
{"width":190,"height":190,"title":"Heart DR spectra","resolve":{"axis":{"x":"independent","y":"independent"}},"layer":[
 {"data":{"name":"hdr"},"mark":{"type":"area","fillOpacity":0.1,"clip":true},"encoding":{"x":{"field":"wl","type":"quantitative","scale":{"domain":[430,900],"nice":false,"zero":false},"axis":{"title":"Wavelength (nm)","values":[500,600,700,800,900],"labelOverlap":false}},"y":{"field":"lo","type":"quantitative","scale":{"domain":[0,1],"nice":false},"axis":{"title":"Intesity (au)","values":[0,0.1,0.2,0.3,0.4,0.5,0.6,0.7,0.8,0.9,1],"format":"~g","labelOverlap":false}},"y2":{"field":"hi"},"fill":{"field":"g","type":"nominal","scale":{"domain":["BL6","NF1"],"range":["#0072BD","#D95319"]},"legend":null}}},
 {"data":{"name":"hdr"},"mark":{"type":"line","strokeDash":[1,2],"strokeWidth":0.8,"opacity":0.7,"clip":true},"encoding":{"x":{"field":"wl","type":"quantitative","axis":null},"y":{"field":"lo","type":"quantitative","axis":null},"stroke":{"field":"g","type":"nominal","scale":{"domain":["BL6","NF1"],"range":["#0072BD","#D95319"]},"legend":null}}},
 {"data":{"name":"hdr"},"mark":{"type":"line","strokeDash":[1,2],"strokeWidth":0.8,"opacity":0.7,"clip":true},"encoding":{"x":{"field":"wl","type":"quantitative","axis":null},"y":{"field":"hi","type":"quantitative","axis":null},"stroke":{"field":"g","type":"nominal","scale":{"domain":["BL6","NF1"],"range":["#0072BD","#D95319"]},"legend":null}}},
 {"data":{"name":"hdr"},"mark":{"type":"line","strokeWidth":1.6,"clip":true},"encoding":{"x":{"field":"wl","type":"quantitative","axis":null},"y":{"field":"m","type":"quantitative","axis":null},"color":{"field":"g","type":"nominal","scale":{"domain":["BL6","NF1","p < .05"],"range":["#0072BD","#D95319","#000000"]},"legend":{"orient":"top-left","title":null,"symbolType":"stroke","symbolSize":160,"encode":{"symbols":{"update":{"shape":{"signal":"datum.value === 'p < .05' ? 'circle' : 'stroke'"},"size":{"signal":"datum.value === 'p < .05' ? 8 : 160"},"fill":{"signal":"datum.value === 'p < .05' ? '#000' : 'transparent'"},"strokeWidth":{"signal":"datum.value === 'p < .05' ? 0 : 1.8"}}}}}}}},
 {"data":{"values":[{"s":792,"e":826}]},"mark":{"type":"rule","color":"#000","strokeWidth":4.5},"encoding":{"x":{"field":"s","type":"quantitative","axis":null},"x2":{"field":"e"},"y":{"datum":0.05,"axis":null}}},
 {"data":{"values":[{"lab":"(g)"}]},"mark":{"type":"text","font":"Noto Sans","fontSize":15,"align":"center","baseline":"middle"},"encoding":{"text":{"field":"lab"},"x":{"datum":350,"axis":null},"y":{"datum":1.042,"axis":null}}}
]},
{"width":190,"height":190,"title":"Heart AF classifier","view":{"fill":"#f3d5c8","stroke":null},"resolve":{"axis":{"x":"independent","y":"independent"}},"layer":[
 {"data":{"name":"hafr"},"mark":{"type":"area","color":"#c3dff2","opacity":1,"clip":true},"encoding":{"x":{"field":"x","type":"quantitative","scale":{"domain":[-1.5,1.5],"nice":false,"zero":false},"axis":{"title":"PC2 score","values":[-1.5,-1,-0.5,0,0.5,1,1.5],"format":"~g","labelOverlap":false}},"y":{"field":"y1","type":"quantitative","scale":{"domain":[-7,2],"nice":false,"zero":false},"axis":{"title":"PC1 score","values":[-7,-6,-5,-4,-3,-2,-1,0,1,2],"format":"~g","labelOverlap":false}},"y2":{"field":"y2"}}},
 {"data":{"name":"hafc"},"mark":{"type":"circle","size":12,"opacity":1},"encoding":{"x":{"field":"x","type":"quantitative","axis":null},"y":{"field":"y","type":"quantitative","axis":null},"color":{"field":"g","type":"nominal","scale":{"domain":["BL6","NF1"],"range":["#0072BD","#D95319"]},"legend":{"orient":"top-right","title":null,"symbolType":"circle","symbolSize":14}}}},
 {"data":{"values":[{"lab":"(d)"}]},"mark":{"type":"text","font":"Noto Sans","fontSize":15,"align":"center","baseline":"middle"},"encoding":{"text":{"field":"lab"},"x":{"datum":-1.87,"axis":null},"y":{"datum":2.379,"axis":null}}}
]},
{"width":190,"height":190,"title":"Heart DR classifier","view":{"fill":"#f3d5c8","stroke":null},"resolve":{"axis":{"x":"independent","y":"independent"}},"layer":[
 {"data":{"name":"hdrr"},"mark":{"type":"area","orient":"horizontal","color":"#c3dff2","opacity":1,"interpolate":"monotone","clip":true},"encoding":{"y":{"field":"y","type":"quantitative","scale":{"domain":[-8,4],"nice":false,"zero":false},"axis":{"title":"PC1 score","values":[-8,-6,-4,-2,0,2,4],"format":"~g","labelOverlap":false}},"x":{"field":"x1","type":"quantitative","scale":{"domain":[-5,5],"nice":false,"zero":false},"axis":{"title":"PC2 score","values":[-5,0,5],"format":"~g","labelOverlap":false}},"x2":{"field":"x2"}}},
 {"data":{"name":"hdrc"},"mark":{"type":"circle","size":12,"opacity":1},"encoding":{"x":{"field":"x","type":"quantitative","axis":null},"y":{"field":"y","type":"quantitative","axis":null},"color":{"field":"g","type":"nominal","scale":{"domain":["BL6","NF1"],"range":["#0072BD","#D95319"]},"legend":{"orient":"top-right","title":null,"symbolType":"circle","symbolSize":14}}}},
 {"data":{"values":[{"lab":"(h)"}]},"mark":{"type":"text","font":"Noto Sans","fontSize":15,"align":"center","baseline":"middle"},"encoding":{"text":{"field":"lab"},"x":{"datum":-6.74,"axis":null},"y":{"datum":4.505,"axis":null}}}
]}
]
}
